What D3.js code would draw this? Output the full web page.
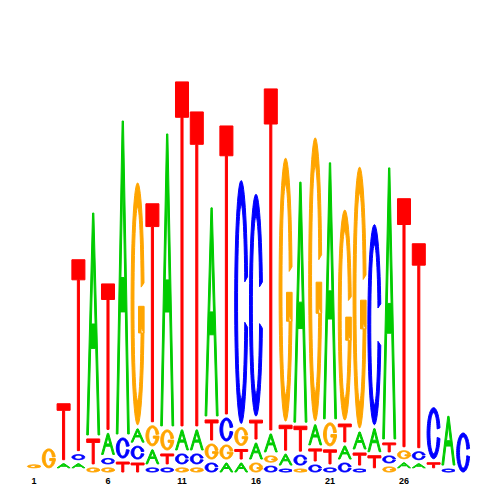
<!DOCTYPE html>
<html><head><meta charset="utf-8">
<script src="https://cdn.jsdelivr.net/npm/d3@7"></script>
<style>html,body{margin:0;padding:0;background:#fff;} svg{display:block;}</style>
</head><body>
<script>
// ---- data (information content in bits, per position) ----
const positions = d3.range(1, 31);
const A = [0, 0.001, 0.021, 0.021, 1.138, 0.108, 1.605, 0.068, 0.072, 1.497,
           0.103, 0.103, 1.067, 0.046, 0.046, 0.082, 0.092, 0.056, 1.231, 0.103,
           1.313, 0.067, 0.087, 0.118, 1.390, 0.026, 0.021, 0.001, 0.250, 0];
const C = [0.001, 0, 0.001, 0.026, 0, 0.028, 0.103, 0.066, 0.021, 0.021,
           0.051, 0.051, 0.046, 0.118, 1.246, 1.138, 0.030, 0.015, 0.051, 0.036,
           0.021, 0.046, 0.015, 1.026, 0.036, 0.001, 0.041, 0.262, 0.015, 0.200];
const G = [0.015, 0.097, 0, 0.001, 0.021, 0.021, 0, 1.241, 0.103, 0.103,
           0.021, 0.021, 0.077, 0.072, 0.092, 0.046, 0.032, 1.349, 0.015, 1.451,
           0.118, 1.077, 1.338, 0.001, 0.026, 0.041, 0.001, 0, 0, 0];
const T = [0, 0, 0.287, 0.979, 0.128, 0.746, 0.051, 0.046, 1.118, 0.051,
           1.764, 1.610, 0.103, 1.477, 0.049, 0.097, 1.749, 0.128, 0.128, 0.062,
           0.072, 0.092, 0.062, 0.062, 0.046, 1.272, 1.046, 0.026, 0, 0];
const tickPositions = [1, 6, 11, 16, 21, 26];
const tickLabels = ["1", "6", "11", "16", "21", "26"];
const letters = ["A", "C", "G", "T"];
const series = {A: A, C: C, G: G, T: T};
const colors = {A: "#00cc00", C: "#0000ff", G: "#ffa500", T: "#ff0000"};

// ---- layout ----
const W = 500, H = 500, baseline = 472, gap = 4;
const svg = d3.select("body").append("svg").attr("width", W).attr("height", H);
const x = d3.scaleBand().domain(positions).range([26.6, 470.6]).paddingInner(0.12).paddingOuter(0.06);
const hScale = d3.scaleLinear().domain([0, 2]).range([0, 390]);
const line = d3.line();

// glyph outlines in unit box (x 0..1, y 0..1 bottom->top)
function ellipsePt(rx, ry, th) { return [0.5 + rx * Math.cos(th), 0.5 + ry * Math.sin(th)]; }
function ringArc(t1, t2, tx, ty) {
  const n = 60, pts = [];
  for (let i = 0; i <= n; i++) { const th = t1 + (t2 - t1) * i / n; pts.push(ellipsePt(0.5, 0.5, th)); }
  for (let i = n; i >= 0; i--) { const th = t1 + (t2 - t1) * i / n; pts.push(ellipsePt(0.5 - tx, 0.5 - ty, th)); }
  return pts;
}
const deg = Math.PI / 180;
function glyph(letter, hpx) {
  if (letter === "T") {
    const cb = Math.min(0.35, 0.1 + 1 / hpx);
    return [[[0,1],[1,1],[1,1-cb],[0.58,1-cb],[0.58,0],[0.42,0],[0.42,1-cb],[0,1-cb]]];
  }
  if (letter === "A") {
    const s = 0.13, b0 = 0.39, b1 = 0.5, k = 0.45;
    return [
      [[0,0],[k,1],[1-k,1],[1,0],[1-s,0],[1-k*b0-s,b0],[k*b0+s,b0],[s,0]],
      [[k*b1+s,b1],[1-k*b1-s,b1],[0.5,(0.5-s)/k]]
    ];
  }
  if (letter === "C") {
    return [ringArc(12 * deg, 348 * deg, 0.22, 0.1)];
  }
  // G
  return [ringArc(10 * deg, 346 * deg, 0.22, 0.1),
          [[0.57,0.38],[1,0.38],[1,0.49],[0.57,0.49]]];
}

const gLogo = svg.append("g");
positions.forEach((p, i) => {
  const stack = letters.map(l => ({l, v: series[l][i]})).filter(d => d.v > 0)
    .sort((a, b) => a.v - b.v);
  let cum = baseline;
  const x0 = x(p), w = x.bandwidth();
  stack.forEach(d => {
    const h = hScale(d.v);
    if (h >= 1) {
      const sx = d3.scaleLinear().domain([0, 1]).range([x0, x0 + w]);
      const sy = d3.scaleLinear().domain([0, 1]).range([cum, cum - h]);
      const polys = glyph(d.l, h);
      const dstr = polys.map(pl => line(pl.map(q => [sx(q[0]), sy(q[1])])) + "Z").join("");
      gLogo.append("path").attr("d", dstr)
        .attr("fill", colors[d.l]).attr("fill-rule", "evenodd")
        .attr("stroke", colors[d.l]).attr("stroke-width", 1).attr("stroke-linejoin", "round");
    }
    cum = cum - h - gap;
  });
});

// position axis
const axis = d3.axisBottom(x).tickValues(tickPositions)
  .tickFormat((d, i) => tickLabels[i]).tickSize(0).tickPadding(6);
svg.append("g").attr("transform", `translate(0,${baseline})`).call(axis)
  .call(g => g.select(".domain").remove())
  .selectAll("text")
  .attr("font-family", "'Liberation Sans', Arial, sans-serif")
  .attr("font-weight", "bold").attr("font-size", 9).attr("fill", "#000");
</script>
</body></html>
